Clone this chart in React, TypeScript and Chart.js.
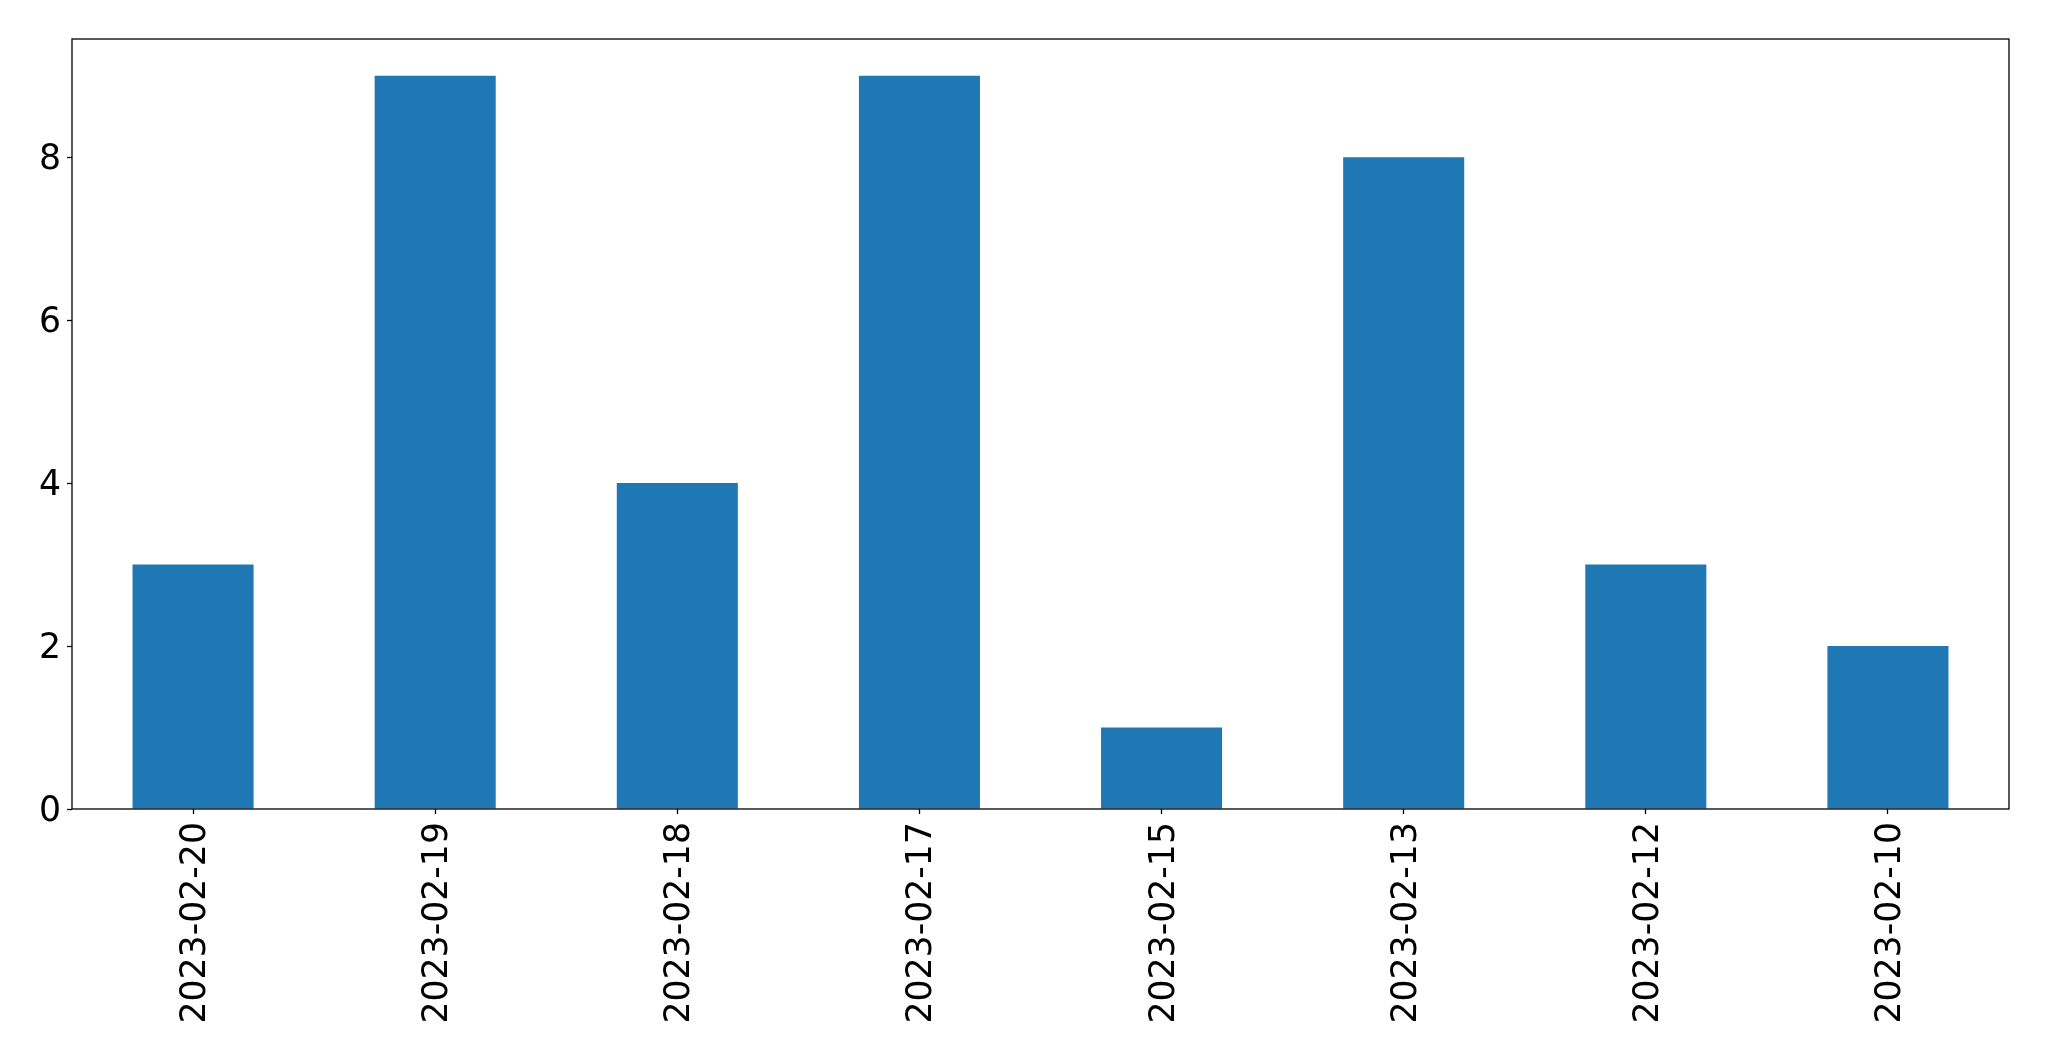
import React, { useEffect, useRef } from "react";
import { Chart, registerables } from "chart.js";

Chart.register(...registerables);

const categories = [
  "2023-02-20",
  "2023-02-19",
  "2023-02-18",
  "2023-02-17",
  "2023-02-15",
  "2023-02-13",
  "2023-02-12",
  "2023-02-10",
];
const counts = [3, 9, 4, 9, 1, 8, 3, 2];
const yTicks = [0, 2, 4, 6, 8];
const yMax = 9.45;

const W = 2049;
const H = 1061;

export default function App() {
  const ref = useRef<HTMLCanvasElement | null>(null);

  useEffect(() => {
    if (!ref.current) return;
    const frame = {
      id: "frame",
      afterDraw(chart: any) {
        const { ctx, chartArea } = chart;
        ctx.save();
        ctx.strokeStyle = "#000";
        ctx.lineWidth = 1.3;
        ctx.strokeRect(
          chartArea.left,
          chartArea.top,
          chartArea.right - chartArea.left,
          chartArea.bottom - chartArea.top
        );
        ctx.restore();
      },
    };
    const font = { family: "DejaVu Sans", size: 34.7 };
    const chart = new Chart(ref.current, {
      type: "bar",
      data: {
        labels: categories,
        datasets: [
          {
            data: counts,
            backgroundColor: "#1f77b4",
            barPercentage: 0.5,
            categoryPercentage: 1,
          },
        ],
      },
      options: {
        animation: false,
        responsive: false,
        maintainAspectRatio: false,
        layout: { padding: { left: 0, top: 39, right: 40, bottom: 0 } },
        plugins: { legend: { display: false }, tooltip: { enabled: false } },
        scales: {
          x: {
            offset: true,
            grid: {
              offset: false,
              drawOnChartArea: false,
              drawTicks: true,
              tickLength: 5,
              tickColor: "#000",
              tickWidth: 1.3,
            },
            border: { display: false },
            ticks: {
              color: "#000",
              font,
              maxRotation: 90,
              minRotation: 90,
              padding: 8,
              labelOffset: 3,
              autoSkip: false,
            },
            afterFit(scale: any) {
              scale.height = 252;
            },
          },
          y: {
            min: 0,
            max: yMax,
            afterBuildTicks(scale: any) {
              scale.ticks = yTicks.map((v) => ({ value: v }));
            },
            grid: {
              drawOnChartArea: false,
              drawTicks: true,
              tickLength: 5,
              tickColor: "#000",
              tickWidth: 1.3,
            },
            border: { display: false },
            ticks: {
              color: "#000",
              font,
              padding: 6,
              labelOffset: 3,
            },
            afterFit(scale: any) {
              scale.width = 72;
            },
          },
        },
      },
      plugins: [frame],
    });
    return () => chart.destroy();
  }, []);

  return (
    <div style={{ position: "fixed", left: 0, top: 0, width: W, height: H, background: "#fff" }}>
      <canvas ref={ref} width={W} height={H} style={{ width: W, height: H, display: "block" }} />
    </div>
  );
}
